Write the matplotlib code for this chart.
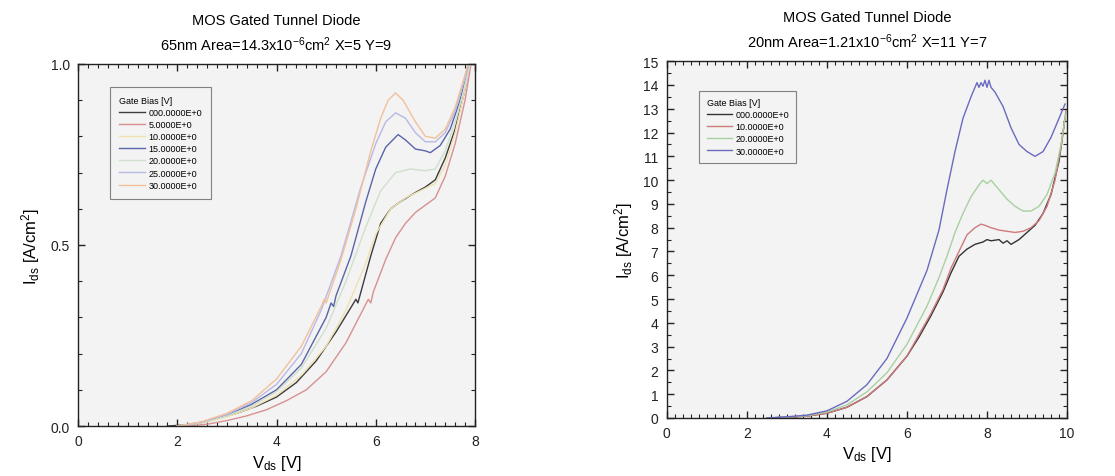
import matplotlib
matplotlib.use("Agg")
import matplotlib.pyplot as plt
from matplotlib.ticker import MultipleLocator, FormatStrFormatter

plt.rcParams['font.family'] = ['Liberation Sans', 'DejaVu Sans']
plt.rcParams['mathtext.fontset'] = 'custom'
plt.rcParams['mathtext.rm'] = 'Liberation Sans'
plt.rcParams['mathtext.it'] = 'Liberation Sans:italic'
plt.rcParams['mathtext.bf'] = 'Liberation Sans:bold'

# ---- 65 nm device: I_ds vs V_ds for seven gate biases ----
left_labels = ["000.0000E+0", "5.0000E+0", "10.0000E+0", "15.0000E+0",
               "20.0000E+0", "25.0000E+0", "30.0000E+0"]
left_colors = ["#3c3c3c", "#d89090", "#efe2b0", "#5a64a8", "#cfe0cc", "#b8b8e6", "#f2c09a"]

v0_65 = [1.8, 2.3, 2.8, 3.2, 3.6, 4.0, 4.4, 4.8, 5.2, 5.6, 5.64, 5.7, 5.9, 6.1, 6.3, 6.5, 6.8, 7.0, 7.2, 7.4, 7.6, 7.8, 7.9]
i0_65 = [0.0, 0.004, 0.02, 0.035, 0.055, 0.08, 0.12, 0.18, 0.26, 0.35, 0.34, 0.37, 0.47, 0.56, 0.6, 0.62, 0.645, 0.66, 0.68, 0.74, 0.82, 0.93, 1.0]

v5_65 = [2.2, 2.6, 3.0, 3.4, 3.8, 4.2, 4.6, 5.0, 5.4, 5.85, 5.9, 5.95, 6.2, 6.4, 6.6, 6.8, 7.0, 7.2, 7.4, 7.6, 7.8, 7.92]
i5_65 = [0.0, 0.005, 0.015, 0.028, 0.045, 0.07, 0.1, 0.15, 0.23, 0.35, 0.34, 0.37, 0.46, 0.52, 0.56, 0.59, 0.61, 0.63, 0.69, 0.78, 0.9, 1.0]

v10_65 = [2.0, 2.5, 3.0, 3.5, 4.0, 4.5, 5.0, 5.4, 5.8, 6.0, 6.3, 6.6, 6.9, 7.2, 7.4, 7.6, 7.8, 7.9]
i10_65 = [0.0, 0.008, 0.025, 0.05, 0.085, 0.14, 0.22, 0.32, 0.45, 0.53, 0.6, 0.63, 0.65, 0.67, 0.72, 0.81, 0.93, 1.0]

v15_65 = [2.0, 2.5, 3.0, 3.5, 4.0, 4.5, 5.0, 5.1, 5.15, 5.2, 5.5, 5.8, 6.0, 6.2, 6.45, 6.6, 6.8, 7.0, 7.1, 7.3, 7.5, 7.7, 7.85]
i15_65 = [0.0, 0.01, 0.03, 0.06, 0.1, 0.17, 0.3, 0.34, 0.33, 0.36, 0.47, 0.62, 0.71, 0.77, 0.805, 0.79, 0.765, 0.76, 0.755, 0.775, 0.82, 0.9, 0.99]

v20_65 = [2.0, 2.5, 3.0, 3.5, 4.0, 4.5, 5.0, 5.4, 5.8, 6.1, 6.4, 6.7, 7.0, 7.2, 7.4, 7.6, 7.8, 7.9]
i20_65 = [0.0, 0.009, 0.028, 0.055, 0.095, 0.16, 0.27, 0.4, 0.55, 0.65, 0.7, 0.71, 0.705, 0.71, 0.76, 0.84, 0.94, 1.0]

v25_65 = [2.0, 2.5, 3.0, 3.5, 4.0, 4.5, 4.9, 5.3, 5.7, 6.0, 6.2, 6.4, 6.6, 6.8, 7.0, 7.2, 7.4, 7.6, 7.8, 7.88]
i25_65 = [0.0, 0.011, 0.032, 0.065, 0.115, 0.2, 0.32, 0.47, 0.66, 0.78, 0.84, 0.865, 0.85, 0.81, 0.785, 0.785, 0.81, 0.87, 0.96, 1.0]

v30_65 = [2.0, 2.5, 3.0, 3.5, 4.0, 4.5, 4.9, 4.96, 5.0, 5.3, 5.6, 5.9, 6.1, 6.25, 6.4, 6.55, 6.8, 7.0, 7.2, 7.4, 7.6, 7.8, 7.86]
i30_65 = [0.0, 0.012, 0.035, 0.07, 0.13, 0.22, 0.33, 0.35, 0.34, 0.46, 0.6, 0.76, 0.85, 0.9, 0.92, 0.9, 0.84, 0.8, 0.795, 0.82, 0.88, 0.97, 1.0]

left_v = [v0_65, v5_65, v10_65, v15_65, v20_65, v25_65, v30_65]
left_i = [i0_65, i5_65, i10_65, i15_65, i20_65, i25_65, i30_65]

# ---- 20 nm device: four gate biases ----
right_labels = ["000.0000E+0", "10.0000E+0", "20.0000E+0", "30.0000E+0"]
right_colors = ["#333333", "#d07a7a", "#a8d0a0", "#6a6ac0"]

v0_20 = [2.5, 3.0, 3.5, 4.0, 4.5, 5.0, 5.5, 6.0, 6.3, 6.6, 6.9, 7.1, 7.3, 7.5, 7.7, 7.9, 8.0, 8.1, 8.3, 8.4, 8.5, 8.6, 8.8, 9.0, 9.2, 9.4, 9.6, 9.8, 9.95]
i0_20 = [0.0, 0.03, 0.08, 0.2, 0.45, 0.9, 1.6, 2.6, 3.4, 4.3, 5.3, 6.1, 6.8, 7.1, 7.3, 7.4, 7.5, 7.45, 7.5, 7.35, 7.45, 7.3, 7.5, 7.8, 8.1, 8.6, 9.4, 10.8, 12.6]

v10_20 = [2.5, 3.0, 3.5, 4.0, 4.5, 5.0, 5.5, 6.0, 6.3, 6.6, 6.9, 7.1, 7.3, 7.5, 7.7, 7.85, 7.95, 8.1, 8.3, 8.5, 8.7, 8.9, 9.1, 9.3, 9.5, 9.7, 9.85, 9.97]
i10_20 = [0.0, 0.03, 0.08, 0.2, 0.45, 0.9, 1.6, 2.6, 3.5, 4.4, 5.4, 6.3, 7.0, 7.7, 8.0, 8.15, 8.1, 8.0, 7.9, 7.85, 7.8, 7.85, 8.0, 8.3, 8.9, 10.0, 11.4, 12.9]

v20_20 = [2.5, 3.0, 3.5, 4.0, 4.5, 5.0, 5.5, 6.0, 6.5, 6.8, 7.0, 7.2, 7.4, 7.6, 7.8, 7.9, 8.0, 8.1, 8.3, 8.5, 8.7, 8.9, 9.1, 9.3, 9.5, 9.7, 9.85, 9.97]
i20_20 = [0.0, 0.04, 0.1, 0.25, 0.55, 1.1, 1.9, 3.1, 4.7, 5.9, 6.8, 7.8, 8.6, 9.3, 9.8, 10.0, 9.85, 10.0, 9.6, 9.2, 8.9, 8.7, 8.7, 8.9, 9.4, 10.3, 11.5, 12.8]

v30_20 = [2.5, 3.0, 3.5, 4.0, 4.5, 5.0, 5.5, 6.0, 6.5, 6.8, 7.0, 7.2, 7.4, 7.6, 7.7, 7.75, 7.8, 7.85, 7.9, 7.95, 8.0, 8.05, 8.1, 8.2, 8.4, 8.6, 8.8, 9.0, 9.2, 9.4, 9.6, 9.8, 9.95]
i30_20 = [0.0, 0.05, 0.12, 0.3, 0.7, 1.4, 2.5, 4.2, 6.2, 7.9, 9.6, 11.2, 12.6, 13.5, 13.9, 14.1, 13.9, 14.1, 13.95, 14.2, 13.9, 14.2, 13.9, 13.7, 13.1, 12.2, 11.5, 11.2, 11.0, 11.2, 11.8, 12.6, 13.2]

right_v = [v0_20, v10_20, v20_20, v30_20]
right_i = [i0_20, i10_20, i20_20, i30_20]

fig = plt.figure(figsize=(11.15, 4.77), dpi=100)
fig.patch.set_facecolor("white")

ax1 = fig.add_axes([0.0700, 0.1048, 0.3560, 0.7590])
ax2 = fig.add_axes([0.5980, 0.1216, 0.3590, 0.7480])


def style_axes(ax):
    ax.set_facecolor("#f3f3f3")
    for s in ax.spines.values():
        s.set_linewidth(1.0)
        s.set_color("#222222")
    ax.tick_params(which="both", direction="in", top=True, right=True,
                   labelsize=10, colors="#222222")
    ax.tick_params(which="major", length=5, width=1.0, pad=6)
    ax.tick_params(which="minor", length=3, width=0.8)


def add_legend(ax, anchor, pad):
    leg = ax.legend(title="Gate Bias [V]", loc="upper left", bbox_to_anchor=anchor,
                    fontsize=6.5, title_fontsize=6.5, frameon=True, fancybox=False,
                    handlelength=2.8, handletextpad=0.4, labelspacing=0.35,
                    borderpad=pad, alignment="left")
    fr = leg.get_frame()
    fr.set_edgecolor("#666666")
    fr.set_facecolor("#f3f3f3")
    fr.set_linewidth(0.8)
    return leg


for v, i, c, lab in zip(left_v, left_i, left_colors, left_labels):
    ax1.plot(v, i, color=c, lw=1.0, label=lab)
ax1.set_xlim(0, 8)
ax1.set_ylim(0, 1.0)
ax1.xaxis.set_major_locator(MultipleLocator(2))
ax1.xaxis.set_minor_locator(MultipleLocator(0.2))
ax1.yaxis.set_major_locator(MultipleLocator(0.5))
ax1.yaxis.set_minor_locator(MultipleLocator(0.1))
ax1.yaxis.set_major_formatter(FormatStrFormatter("%.1f"))
style_axes(ax1)
ax1.set_title("MOS Gated Tunnel Diode\n65nm Area=14.3x10$^{-6}$cm$^{2}$ X=5 Y=9",
              fontsize=10.5, pad=10, linespacing=1.5)
ax1.set_xlabel("V$_{\\rm ds}$ [V]", fontsize=12, labelpad=3)
ax1.set_ylabel("I$_{\\rm ds}$ [A/cm$^{2}$]", fontsize=12, labelpad=6)
add_legend(ax1, (0.07, 0.95), 1.0)

for v, i, c, lab in zip(right_v, right_i, right_colors, right_labels):
    ax2.plot(v, i, color=c, lw=1.0, label=lab)
ax2.set_xlim(0, 10)
ax2.set_ylim(0, 15)
ax2.xaxis.set_major_locator(MultipleLocator(2))
ax2.xaxis.set_minor_locator(MultipleLocator(0.2))
ax2.yaxis.set_major_locator(MultipleLocator(1))
ax2.yaxis.set_minor_locator(MultipleLocator(0.5))
style_axes(ax2)
ax2.set_title("MOS Gated Tunnel Diode\n20nm Area=1.21x10$^{-6}$cm$^{2}$ X=11 Y=7",
              fontsize=10.5, pad=10, linespacing=1.5)
ax2.set_xlabel("V$_{\\rm ds}$ [V]", fontsize=12, labelpad=3)
ax2.set_ylabel("I$_{\\rm ds}$ [A/cm$^{2}$]", fontsize=12, labelpad=6)
add_legend(ax2, (0.07, 0.93), 0.8)

fig.savefig("out.png", dpi=100, facecolor="white")
